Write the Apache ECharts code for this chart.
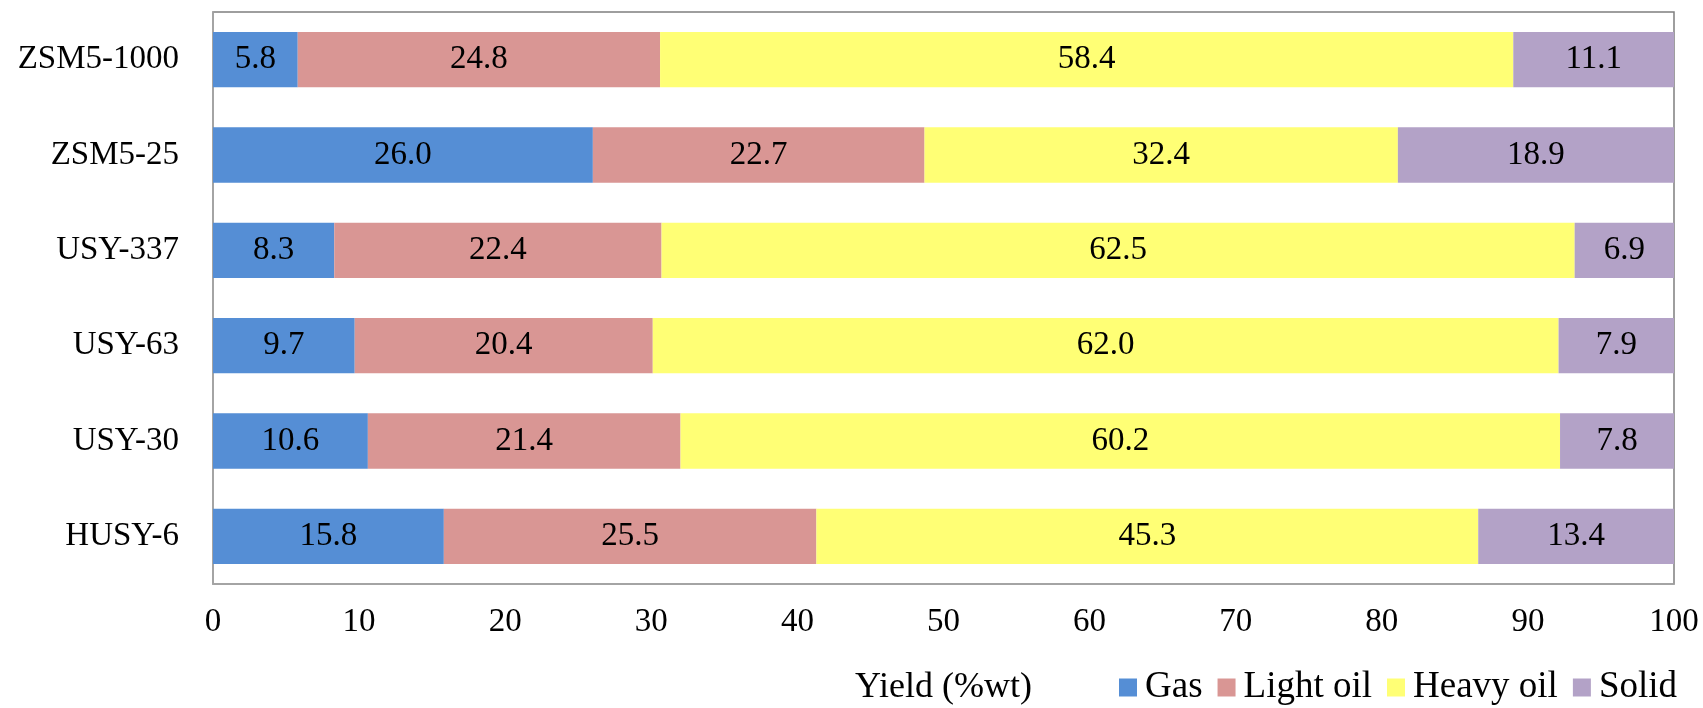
<!DOCTYPE html>
<html>
<head>
<meta charset="utf-8">
<script src="https://cdn.jsdelivr.net/npm/echarts@6/dist/echarts.min.js"></script>
<style>
  html, body { margin: 0; padding: 0; background: #fff; }
  #chart { width: 1703px; height: 708px; }
</style>
</head>
<body>
<div id="chart"></div>
<script>
// Catalysts, bottom to top
const categories = ['HUSY-6', 'USY-30', 'USY-63', 'USY-337', 'ZSM5-25', 'ZSM5-1000'];

// Product yields (%wt) per catalyst
const gas      = [15.8, 10.6, 9.7, 8.3, 26.0, 5.8];
const lightOil = [25.5, 21.4, 20.4, 22.4, 22.7, 24.8];
const heavyOil = [45.3, 60.2, 62.0, 62.5, 32.4, 58.4];
const solid    = [13.4, 7.8, 7.9, 6.9, 18.9, 11.1];

const xTicks = [0, 10, 20, 30, 40, 50, 60, 70, 80, 90, 100];

const FONT = 'Liberation Serif';
const FS = 33;

function barSeries(name, data, color) {
  return {
    name: name,
    type: 'bar',
    stack: 'total',
    data: data,
    barCategoryGap: '42%',
    itemStyle: { color: color },
    label: {
      show: true,
      position: 'inside',
      color: '#000',
      fontFamily: FONT,
      fontSize: FS,
      formatter: p => p.value.toFixed(1)
    }
  };
}

const chart = echarts.init(document.getElementById('chart'));
chart.setOption({
  animation: false,
  backgroundColor: '#fff',
  textStyle: { fontFamily: FONT, fontSize: FS },
  grid: {
    left: 213, right: 29, top: 12, bottom: 124,
    outerBoundsMode: 'none',
    containLabel: false,
    show: true, borderColor: '#7f7f7f', borderWidth: 1.5
  },
  legend: {
    left: 1119,
    top: 669,
    padding: 0,
    icon: 'rect',
    itemWidth: 18,
    itemHeight: 18,
    itemGap: 15,
    formatter: '{t|{name}}',
    textStyle: {
      color: '#000',
      rich: {
        t: { fontFamily: FONT, fontSize: 37, lineHeight: 40, color: '#000', padding: [0, 0, 0, 3] }
      }
    },
    data: ['Gas', 'Light oil', 'Heavy oil', 'Solid']
  },
  xAxis: {
    type: 'value',
    min: xTicks[0],
    max: xTicks[xTicks.length - 1],
    interval: 10,
    name: 'Yield (%wt)',
    nameLocation: 'middle',
    nameGap: 104,
    nameTextStyle: { fontFamily: FONT, fontSize: 36, color: '#000', verticalAlign: 'middle' },
    axisLine: { show: true, lineStyle: { color: '#a6a6a6', width: 1.5 } },
    axisTick: { show: false },
    splitLine: { show: false },
    axisLabel: { color: '#000', fontFamily: FONT, fontSize: FS, margin: 22 }
  },
  yAxis: {
    type: 'category',
    data: categories,
    axisLine: { show: true, lineStyle: { color: '#a6a6a6', width: 1.5 } },
    axisTick: { show: false },
    axisLabel: { color: '#000', fontFamily: FONT, fontSize: FS, margin: 34 }
  },
  series: [
    barSeries('Gas', gas, '#558ed5'),
    barSeries('Light oil', lightOil, '#d99694'),
    barSeries('Heavy oil', heavyOil, '#ffff75'),
    barSeries('Solid', solid, '#b3a2c7')
  ]
});
</script>
</body>
</html>
